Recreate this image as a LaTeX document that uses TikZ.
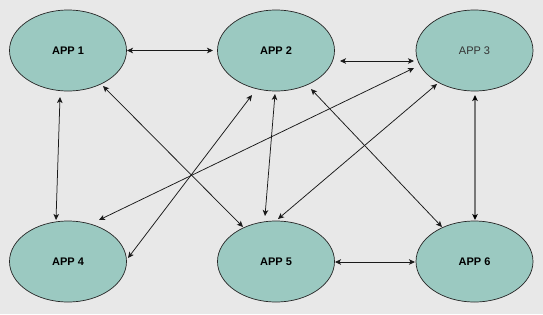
\documentclass[tikz,border=0pt]{standalone}
\usepackage{fontspec}
\setmainfont{Liberation Sans}
\usetikzlibrary{shapes.geometric,arrows.meta,calc}
\definecolor{bgc}{RGB}{232,232,232}
\definecolor{appfill}{RGB}{155,201,193}
\definecolor{thickline}{RGB}{120,120,120}
\tikzset{
  app/.style={ellipse,draw=black!85,line width=0.7pt,fill=appfill,minimum width=117pt,minimum height=81pt,inner sep=0pt,font=\fontsize{11pt}{13pt}\selectfont\bfseries},
  link/.style={{Stealth[length=6pt,width=5.5pt,inset=1.5pt]}-{Stealth[length=6pt,width=5.5pt,inset=1.5pt]},line width=0.75pt,black!90},
  thicklink/.style={link,line width=1.8pt,draw=thickline,{Stealth[length=6pt,width=5.5pt,inset=1.5pt,black]}-{Stealth[length=6pt,width=5.5pt,inset=1.5pt,black]}}
}
\begin{document}
\begin{tikzpicture}[x=1pt,y=-1pt]
\fill[bgc] (0,0) rectangle (543,314);
\useasboundingbox (0,0) rectangle (543,314);
\node[app] (a1) at (68,50.5) {APP 1};
\node[app] (a2) at (276,50.5) {APP 2};
\node[app,font=\fontsize{11pt}{13pt}\selectfont,text=black!80] (a3) at (474.5,50.5) {APP 3};
\node[app] (a4) at (68,261.5) {APP 4};
\node[app] (a5) at (276,261.5) {APP 5};
\node[app] (a6) at (474.5,261.5) {APP 6};
\draw[link] ($(a1.center)+(59,0)$) -- ($(a2.center)+(-63,0)$);
\draw[link] ($(a2.center)+(64,10.5)$) -- ($(a3.center)+(-60.5,10.5)$);
\draw[link] ($(a1.center)+(-8,46.5)$) -- ($(a4.center)+(-12,-41.5)$);
\draw[link] ($(a1.center)+(35,35.5)$) -- ($(a5.center)+(-33,-34.5)$);
\draw[link] ($(a2.center)+(-24,44.5)$) -- ($(a4.center)+(60,-3.5)$);
\draw[link] ($(a3.center)+(-60.5,17.5)$) -- ($(a4.center)+(31,-41.5)$);
\draw[link] ($(a2.center)+(-1,43.5)$) -- ($(a5.center)+(-11,-45.5)$);
\draw[link] ($(a3.center)+(-37.5,33.5)$) -- ($(a5.center)+(2,-42.5)$);
\draw[link] ($(a2.center)+(35,38.5)$) -- ($(a6.center)+(-32.5,-34.5)$);
\draw[thicklink] ($(a3.center)+(0.5,44.5)$) -- ($(a6.center)+(0.5,-41.5)$);
\draw[link] ($(a5.center)+(59,0.5)$) -- ($(a6.center)+(-59.5,0.5)$);
\end{tikzpicture}
\end{document}
